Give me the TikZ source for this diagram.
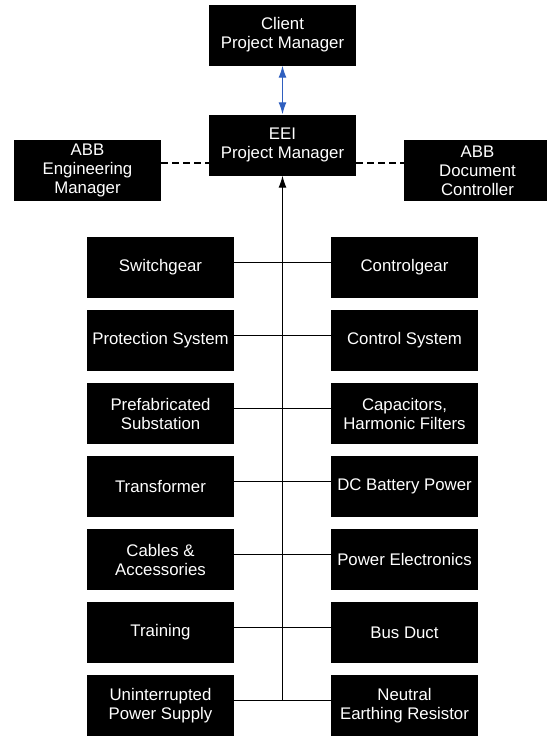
\documentclass[tikz,border=0pt]{standalone}
\usepackage{fontspec}
\setmainfont{Liberation Sans}
\usetikzlibrary{arrows.meta}
\definecolor{linkblue}{RGB}{47,95,191}
\tikzset{
  unit/.style={fill=black,text=white,inner sep=0pt,align=center,
    minimum width=147pt,minimum height=61pt,
    font=\fontsize{16.8}{19}\selectfont},
  link/.style={black,line width=1pt},
  tip/.style={-{Latex[length=12pt,width=8pt]}}
}

\begin{document}
\begin{tikzpicture}[x=1pt,y=-1pt]
  \useasboundingbox (0,0) rectangle (546,736);

  % management
  \node[unit] (client) at (282.5,35)  {Client\\Project Manager};
  \node[unit] (eei)    at (282.5,145) {EEI\\Project Manager};
  \node[unit] (eng)    at (87.5,170.5)  {ABB\\Engineering\\Manager};
  \node[unit] (doc)    at (477.5,170.5) {ABB\\Document\\Controller};

  % product lines
  \node[unit] (l1) at (160.5,267.5) {Switchgear};
  \node[unit] (l2) at (160.5,340.5) {Protection System};
  \node[unit] (l3) at (160.5,413.5) {Prefabricated\\Substation};
  \node[unit] (l4) at (160.5,486.5) {Transformer};
  \node[unit] (l5) at (160.5,559.5) {Cables \&\\Accessories};
  \node[unit] (l6) at (160.5,632.5) {Training};
  \node[unit] (l7) at (160.5,705.5) {Uninterrupted\\Power Supply};

  \node[unit] (r1) at (404.5,267.5) {Controlgear};
  \node[unit] (r2) at (404.5,340.5) {Control System};
  \node[unit] (r3) at (404.5,413.5) {Capacitors,\\Harmonic Filters};
  \node[unit] (r4) at (404.5,486.5) {DC Battery Power};
  \node[unit] (r5) at (404.5,559.5) {Power Electronics};
  \node[unit] (r6) at (404.5,632.5) {Bus Duct};
  \node[unit] (r7) at (404.5,705.5) {Neutral\\Earthing Resistor};

  \foreach \i in {1,...,7} {
    \draw[link] ([yshift=5.5pt]l\i.east) -- ([yshift=5.5pt]r\i.west);
  }
  \coordinate (bus) at ([yshift=5.5pt]l7.east);
  \draw[link,tip] (bus -| eei.south) -- (eei.south);% main trunk

  \draw[linkblue,line width=1.2pt,{Latex[length=12pt,width=8pt]}-{Latex[length=12pt,width=8pt]}]
    (client.south) -- (eei.north);

  \coordinate (dl) at ([yshift=7.5pt]eng.east);
  \coordinate (dr) at ([yshift=7.5pt]doc.west);
  \draw[line width=1.6pt,dash pattern=on 7pt off 4pt] (dl) -- (dl -| eei.west);
  \draw[line width=1.6pt,dash pattern=on 7pt off 4pt] (dr -| eei.east) -- (dr);
\end{tikzpicture}
\end{document}
